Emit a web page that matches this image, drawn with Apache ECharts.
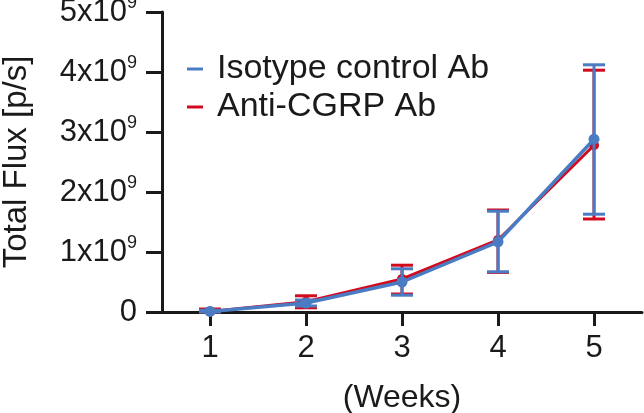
<!DOCTYPE html>
<html><head><meta charset="utf-8">
<script src="https://cdn.jsdelivr.net/npm/echarts@6/dist/echarts.min.js"></script>
<style>html,body{margin:0;padding:0;background:#fff}#c{width:644px;height:413px}</style>
</head><body><div id="c"></div>
<script>
const weeks = [1, 2, 3, 4, 5];
const isoMean = [0.01e9, 0.15e9, 0.50e9, 1.17e9, 2.88e9];
const isoLow  = [0.0e9, 0.10e9, 0.28e9, 0.67e9, 1.63e9];
const isoHigh = [0.03e9, 0.20e9, 0.72e9, 1.68e9, 4.12e9];
const cgrpMean = [0.01e9, 0.17e9, 0.55e9, 1.20e9, 2.78e9];
const cgrpLow  = [0.0e9, 0.07e9, 0.30e9, 0.66e9, 1.55e9];
const cgrpHigh = [0.05e9, 0.27e9, 0.78e9, 1.70e9, 4.03e9];
const yTitle = 'Total Flux [p/s]';
const xTitle = '(Weeks)';

const BLUE = '#4a7cc4', RED = '#d20a1e', INK = '#1a1a1a';
const FONT = 'Liberation Sans, Arial, sans-serif';

function errSeries(name, low, high, color, z) {
  return {
    type: 'custom', name: name, z: z, silent: true,
    data: weeks.map((w, i) => [w, low[i], high[i]]),
    renderItem: function (params, api) {
      const x = api.value(0);
      const lo = api.coord([x, api.value(1)]);
      const hi = api.coord([x, api.value(2)]);
      const hw = 11;
      const st = { stroke: color, lineWidth: 3 };
      return { type: 'group', children: [
        { type: 'line', shape: { x1: lo[0], y1: lo[1], x2: hi[0], y2: hi[1] }, style: st },
        { type: 'line', shape: { x1: lo[0] - hw, y1: lo[1], x2: lo[0] + hw, y2: lo[1] }, style: st },
        { type: 'line', shape: { x1: hi[0] - hw, y1: hi[1], x2: hi[0] + hw, y2: hi[1] }, style: st }
      ]};
    }
  };
}

const chart = echarts.init(document.getElementById('c'), null, { renderer: 'canvas' });
chart.setOption({
  animation: false,
  textStyle: { fontFamily: FONT },
  grid: { left: 162, right: 2, top: 12, bottom: 101, containLabel: false, outerBoundsMode: 'none' },
  graphic: [{
    type: 'text', x: 17, y: 162, rotation: Math.PI / 2,
    style: { text: yTitle, fontSize: 33, fontFamily: FONT, fill: INK,
      align: 'center', verticalAlign: 'middle' }
  }],
  legend: {
    left: 182, top: 47, orient: 'vertical', itemGap: 4,
    itemWidth: 16, itemHeight: 3, icon: 'rect',
    textStyle: { fontSize: 34, color: INK, padding: [0, 0, 0, 9] },
    data: [
      { name: 'Isotype control Ab', itemStyle: { color: BLUE } },
      { name: 'Anti-CGRP Ab', itemStyle: { color: RED } }
    ]
  },
  xAxis: {
    type: 'value', min: 0.5, max: 5.5, interval: 1,
    name: xTitle, nameLocation: 'middle', nameGap: 70, nameMoveOverlap: false,
    nameTextStyle: { fontSize: 32, color: INK },
    axisLine: { lineStyle: { color: INK, width: 3 } },
    axisTick: { show: true, length: 14, lineStyle: { color: INK, width: 3 },
      customValues: weeks },
    axisLabel: { fontSize: 31, color: INK, margin: 21, customValues: weeks },
    splitLine: { show: false }
  },
  yAxis: {
    type: 'value', min: 0, max: 5e9, interval: 1e9,
    axisLine: { show: true, lineStyle: { color: INK, width: 3 } },
    axisTick: { show: true, length: 16, lineStyle: { color: INK, width: 3 } },
    axisLabel: {
      margin: 25, color: INK,
      formatter: function (v) {
        if (v === 0) return '{b|0}';
        return '{b|' + (v / 1e9) + 'x10}{s|9}';
      },
      rich: {
        b: { fontSize: 31, color: INK },
        s: { fontSize: 18, color: INK, padding: [0, 0, 17, 0] }
      }
    },
    splitLine: { show: false }
  },
  series: [
    errSeries('cgrpErr', cgrpLow, cgrpHigh, RED, 1),
    {
      name: 'Anti-CGRP Ab', type: 'line', z: 2,
      data: weeks.map((w, i) => [w, cgrpMean[i]]),
      symbol: 'circle', symbolSize: 10,
      lineStyle: { color: RED, width: 3 }, itemStyle: { color: RED }
    },
    errSeries('isoErr', isoLow, isoHigh, BLUE, 3),
    {
      name: 'Isotype control Ab', type: 'line', z: 4,
      data: weeks.map((w, i) => [w, isoMean[i]]),
      symbol: 'circle', symbolSize: 11,
      lineStyle: { color: BLUE, width: 3.5 }, itemStyle: { color: BLUE }
    }
  ]
});
</script></body></html>
